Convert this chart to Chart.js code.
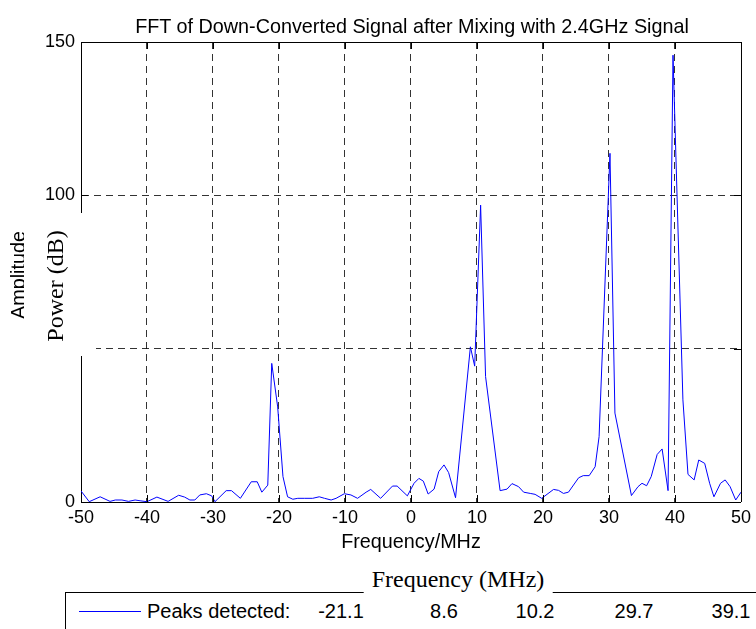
<!DOCTYPE html>
<html>
<head>
<meta charset="utf-8">
<script src="https://cdn.jsdelivr.net/npm/chart.js@4.4.1/dist/chart.umd.min.js"></script>
<style>
  body { margin: 0; background: #fff; }
  #wrap { position: relative; width: 756px; height: 629px; overflow: hidden; background: #fff; }
  #wrap canvas { position: absolute; left: 0; top: 0; }
  .txt { position: absolute; white-space: nowrap; line-height: 1; color: #000; }
  .sans { font-family: "Liberation Sans", Arial, sans-serif; }
  .serif { font-family: "Liberation Serif", "Times New Roman", serif; }
</style>
</head>
<body>
<div id="wrap">
  <canvas id="myChart" width="756" height="629"></canvas>

  <div class="txt sans" style="left:412px; top:27px; font-size:19.8px; transform:translate(-50%,-50%);">FFT of Down-Converted Signal after Mixing with 2.4GHz Signal</div>

  <!-- original y label, partly hidden by the pasted white patch -->
  <div class="txt sans" style="left:19px; top:275px; font-size:19.8px; transform:translate(-50%,-50%) rotate(-90deg);">Amplitude</div>
  <div style="position:absolute; left:24px; top:213px; width:72px; height:143px; background:#fff;"></div>
  <div class="txt serif" style="left:55px; top:286px; font-size:24px; transform:translate(-50%,-50%) rotate(-90deg);">Power (dB)</div>

  <!-- legend box -->
  <div style="position:absolute; left:65px; top:592px; width:760px; height:80px; border:1px solid #000; background:#fff;"></div>
  <div style="position:absolute; left:79px; top:611px; width:62px; height:0; border-top:1px solid #0000ff;"></div>
  <div id="legendText"></div>
  <div class="txt serif" style="left:458px; top:579px; font-size:24px; padding:2px 8px; background:#fff; transform:translate(-50%,-50%);">Frequency (MHz)</div>
</div>

<script>
// FFT trace (MHz, dB)
const freqMHz = [
  -50.0, -48.75, -47.1, -45.6, -44.8, -43.8, -42.8, -41.8, -41.05, -40.0,
  -38.5, -36.8, -35.2, -34.3, -33.5, -32.75, -32.0, -31.0, -30.2, -29.7,
  -28.0, -27.2, -25.85, -24.2, -23.3, -22.6, -21.7, -21.1, -20.2, -19.4,
  -18.7, -17.9, -17.15, -16.1, -14.9, -13.9, -13.1, -12.1, -11.35, -10.1,
  -9.1, -8.1, -6.8, -6.1, -4.6, -2.8, -2.1, -0.55, 0.46, 1.2,
  1.87, 2.6, 3.5, 4.2, 5.0, 5.7, 6.75, 9.0, 9.65, 10.55,
  11.3, 13.5, 14.55, 15.3, 16.3, 17.07, 18.07, 18.8, 19.8, 21.6,
  22.35, 23.1, 23.86, 25.4, 26.1, 27.0, 27.9, 28.5, 30.15, 30.9,
  33.4, 34.4, 35.0, 35.7, 36.4, 37.3, 38.05, 38.95, 39.7, 41.2,
  41.97, 42.9, 43.6, 44.5, 45.25, 45.9, 46.9, 47.6, 48.35, 49.2,
  50.0
];
const powerDb = [
  3.6, 0.1, 1.7, 0.2, 0.65, 0.65, 0.2, 0.65, 0.4, 0.1,
  1.6, 0.2, 2.2, 1.6, 0.65, 0.65, 2.3, 2.7, 2.0, 0.1,
  3.7, 3.7, 1.2, 6.6, 6.6, 3.2, 5.5, 45.2, 31.0, 8.3,
  1.7, 0.9, 1.2, 1.2, 1.2, 1.7, 1.2, 0.65, 1.2, 2.7,
  2.3, 1.2, 3.2, 4.1, 1.2, 5.2, 5.2, 2.0, 6.1, 7.7,
  6.8, 2.6, 4.2, 9.9, 12.1, 9.6, 1.4, 50.6, 44.3, 96.8,
  40.9, 3.7, 4.2, 6.0, 5.0, 3.2, 2.8, 2.5, 1.2, 4.1,
  3.8, 2.8, 3.2, 7.9, 8.6, 8.6, 11.5, 21.3, 113.7, 29.0,
  2.1, 5.0, 6.1, 5.3, 8.3, 15.5, 17.3, 3.7, 145.7, 33.3,
  9.0, 7.2, 13.7, 12.6, 6.1, 1.7, 6.1, 7.2, 5.0, 0.65,
  3.2
];
const xTicks = [-50, -40, -30, -20, -10, 0, 10, 20, 30, 40, 50];
const yTicks = [0, 50, 100, 150];
const peaksDetected = ['-21.1', '8.6', '10.2', '29.7', '39.1'];
const peakLabelX = [341, 444, 535, 634, 731];

// legend row text
let lg = document.getElementById('legendText');
let html = '<div class="txt sans" style="left:147px; top:611px; font-size:20px; transform:translateY(-50%);">Peaks detected:</div>';
for (let i = 0; i < peaksDetected.length; i++) {
	html += '<div class="txt sans" style="left:' + peakLabelX[i] + 'px; top:611px; font-size:20px; transform:translate(-50%,-50%);">' + peaksDetected[i] + '</div>';
}
lg.innerHTML = html;

let points = [];
for (let i = 0; i < freqMHz.length; i++) {
	points.push({x: freqMHz[i], y: powerDb[i]});
}

const gridColor = 'rgba(0,0,0,0.8)';
const fontSans = '"Liberation Sans", Arial, sans-serif';

// solid frame + inward tick marks like matlab
const framePlugin = {
	id: 'frame',
	afterDraw(chart) {
		const ctx = chart.ctx;
		const a = chart.chartArea;
		const sx = chart.scales.x, sy = chart.scales.y;
		ctx.save();
		ctx.strokeStyle = '#000';
		ctx.lineWidth = 1;
		ctx.beginPath();
		ctx.moveTo(a.left, a.top + 0.5);
		ctx.lineTo(a.right + 0.5, a.top + 0.5);
		ctx.lineTo(a.right + 0.5, a.bottom);
		ctx.stroke();
		ctx.beginPath();
		xTicks.forEach(v => {
			let px = Math.round(sx.getPixelForValue(v)) + 0.5;
			ctx.moveTo(px, a.bottom); ctx.lineTo(px, a.bottom - 7);
			ctx.moveTo(px, a.top); ctx.lineTo(px, a.top + 7);
		});
		yTicks.forEach(v => {
			let py = Math.round(sy.getPixelForValue(v)) + 0.5;
			ctx.moveTo(a.left, py); ctx.lineTo(a.left + 7, py);
			ctx.moveTo(a.right, py); ctx.lineTo(a.right - 7, py);
		});
		ctx.stroke();
		ctx.restore();
	}
};

var ctx = document.getElementById('myChart');
var myChart = new Chart(ctx, {
	type: 'line',
	data: {
		datasets: [{
			data: points,
			borderColor: '#0000ff',
			borderWidth: 1,
			pointRadius: 0,
			tension: 0,
			fill: false
		}]
	},
	options: {
		responsive: false,
		animation: false,
		layout: { padding: { top: 42, right: 12, bottom: 72, left: 0 } },
		plugins: { legend: { display: false }, title: { display: false }, tooltip: { enabled: false } },
		scales: {
			x: {
				type: 'linear', min: -50, max: 50,
				afterBuildTicks: s => { s.ticks = xTicks.map(v => ({value: v})); },
				afterFit: s => { s.height = 55; },
				ticks: { color: '#000', font: { family: fontSans, size: 18 }, padding: 5, maxRotation: 0, autoSkip: false },
				grid: {
					drawTicks: false,
					color: c => (c.tick && (c.tick.value === -50 || c.tick.value === 50)) ? 'rgba(0,0,0,0)' : gridColor
				},
				border: { display: true, color: '#000', width: 1, dash: [7, 5] },
				title: { display: true, text: 'Frequency/MHz', color: '#000', font: { family: fontSans, size: 19.8 }, padding: { top: 0, bottom: 3 } }
			},
			y: {
				min: 0, max: 150,
				afterBuildTicks: s => { s.ticks = yTicks.map(v => ({value: v})); },
				afterFit: s => { s.width = 81; },
				ticks: { color: '#000', font: { family: fontSans, size: 18 }, padding: 6 },
				grid: {
					drawTicks: false,
					color: c => (c.tick && (c.tick.value === 0 || c.tick.value === 150)) ? 'rgba(0,0,0,0)' : gridColor
				},
				border: { display: true, color: '#000', width: 1, dash: [7, 5] }
			}
		}
	},
	plugins: [framePlugin]
});
</script>
</body>
</html>
